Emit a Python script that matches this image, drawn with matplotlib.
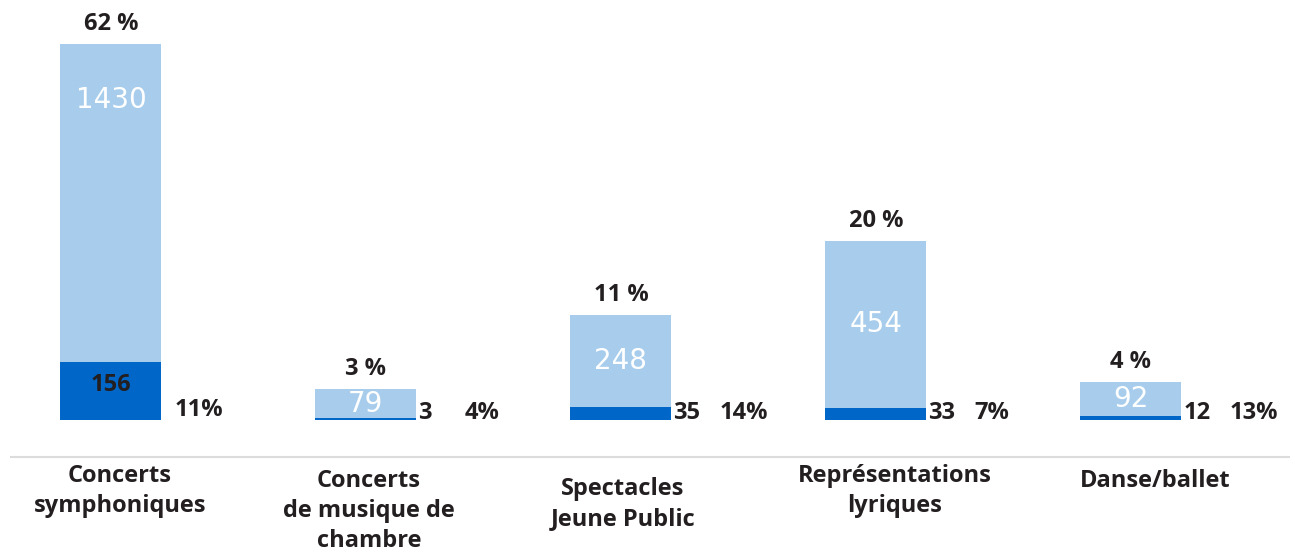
"""Performances by genre: totals vs. subset, infographic-style bars."""

import matplotlib

matplotlib.use("Agg")
import matplotlib.pyplot as plt
import numpy as np

# --------------------------------------------------------------- data

categories = [
    "Concerts\nsymphoniques",
    "Concerts\nde musique de\nchambre",
    "Spectacles\nJeune Public",
    "Représentations\nlyriques",
    "Danse/ballet",
]
totals = [1430, 79, 248, 454, 92]
subset = [156, 3, 35, 33, 12]
share_pct = ["62 %", "3 %", "11 %", "20 %", "4 %"]
subset_pct = ["11%", "4%", "14%", "7%", "13%"]

# bar heights as drawn in the infographic (not to scale), in pixels
total_drawn = [376, 31, 105, 179, 38]
subset_drawn = [58, 2, 13, 12, 4]

LIGHT = "#a8cdec"
DARK = "#0066c8"
INK = "#231f20"
FONT = "Open Sans"
BOLD = dict(fontsize=17, fontweight="bold", color=INK, family=FONT)

# --------------------------------------------------------------- figure

fig = plt.figure(figsize=(12.9, 5.54), dpi=100)
ax = fig.add_axes([0, 0, 1, 1])
x = np.arange(len(categories))
width = 0.396

ax.bar(x, total_drawn, width, color=LIGHT, linewidth=0)
ax.bar(x, subset_drawn, width, color=DARK, linewidth=0)

# one data unit = one pixel vertically; baseline sits 420 px from the top
ax.set_ylim(-134, 420)
ax.set_xlim(-0.435, 4.624)
ax.axis("off")

px = 1 / 255  # one pixel in x data units

# baseline rule under the bars
ax.plot([-0.396, 4.624], [-37, -37], color="#dcdcdc", lw=1.5, solid_capstyle="butt")

# category labels are not exactly centred under their bars
label_dx = [9, 3, 2, 19, 24]
label_top = [-44, -49, -57, -44, -49]
for i in x:
    top = total_drawn[i]
    sub = subset_drawn[i]
    right = i + width / 2

    ax.text(i, top + 8, share_pct[i], ha="center", va="bottom", **BOLD)

    mid = (top + sub) / 2
    y_in = top - 56 if top - mid > 100 else mid
    ax.text(i, y_in, str(totals[i]), ha="center", va="center",
            fontsize=20, color="white", family="DejaVu Sans")

    if sub > 40:
        ax.text(i, sub / 2 + 6, str(subset[i]), ha="center", va="center", **BOLD)
        pct_x, pct_y = right + 13 * px, 10
    else:
        ax.text(right + 2 * px, 7, str(subset[i]), ha="left", va="center", **BOLD)
        pct_x, pct_y = right + 48 * px, 7
    ax.text(pct_x, pct_y, subset_pct[i], ha="left", va="center", **BOLD)

    ax.text(i + label_dx[i] * px, label_top[i], categories[i], ha="center",
            va="top", linespacing=1.33, **BOLD)

fig.savefig("out.png", dpi=100, facecolor="white")
plt.close(fig)
